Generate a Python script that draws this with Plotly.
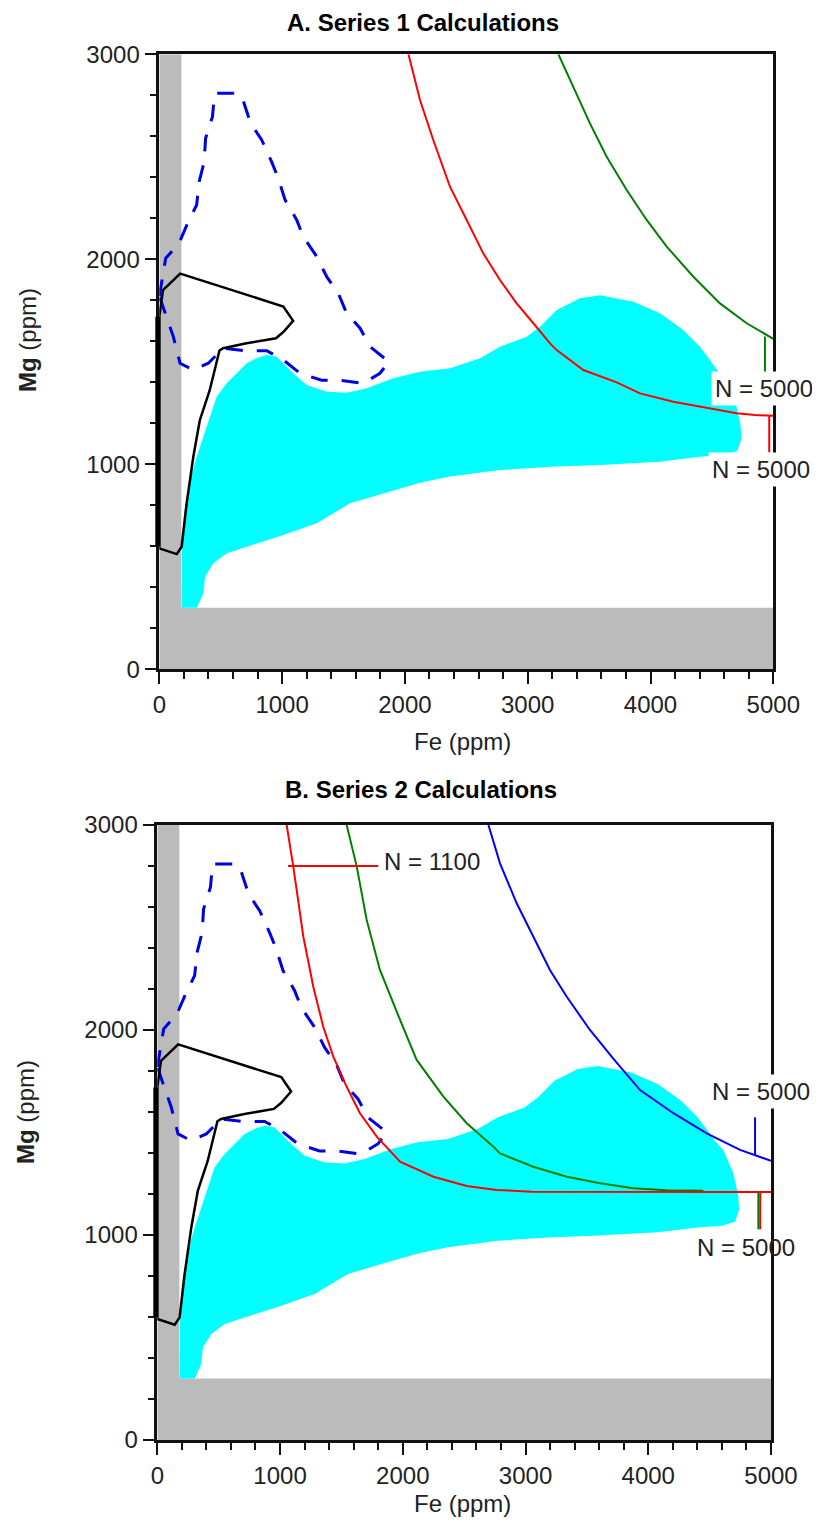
import plotly.graph_objects as go

# ---------------- data (Fe ppm on x, Mg ppm on y) ----------------
gray_x = [0, 5000, 5000, 180, 180, 0, 0]
gray_y = [0, 0, 300, 300, 3000, 3000, 0]

cyan_x = [182, 185, 200, 250, 305, 358, 413, 467, 549, 640, 712, 800, 875, 956, 1030, 1091,
          1200, 1363, 1526, 1689, 1906, 2123, 2367, 2612, 2774, 2992, 3100, 3236, 3426, 3589,
          3860, 4077, 4267, 4402, 4484, 4541, 4611, 4660, 4693, 4734, 4740, 4707, 4600, 4402,
          4077, 3589, 3182, 2774, 2367, 2123, 1960, 1825, 1553, 1282, 1010, 765, 549, 440,
          372, 358, 305, 305, 182]
cyan_y = [300, 600, 760, 923, 1037, 1135, 1232, 1330, 1395, 1450, 1493, 1520, 1533, 1525, 1480, 1444,
          1387, 1354, 1349, 1371, 1420, 1452, 1468, 1517, 1574, 1622, 1671, 1753, 1810, 1825,
          1793, 1737, 1655, 1574, 1509, 1460, 1415, 1345, 1301, 1187, 1122, 1065, 1045, 1037,
          1013, 997, 988, 972, 940, 910, 883, 858, 810, 712, 655, 606, 566, 517,
          452, 371, 305, 300, 300]

blue_dash_x = [0, 52, 160, 236, 304, 325, 365, 377, 433, 450, 645, 685, 744, 834, 915, 969, 1024,
               1119, 1173, 1282, 1363, 1458, 1526, 1635, 1716, 1870, 1797, 1661, 1471, 1322, 1146,
               1010, 875, 698, 521, 399, 277, 169, 114, 60, 0]
blue_dash_y = [1820, 2005, 2078, 2183, 2265, 2380, 2475, 2590, 2696, 2810, 2810, 2770, 2663, 2582,
               2475, 2395, 2290, 2192, 2110, 2013, 1915, 1834, 1736, 1664, 1574, 1500, 1444, 1395,
               1410, 1410, 1444, 1509, 1554, 1554, 1566, 1493, 1460, 1493, 1623, 1720, 1820]

black_x = [0, 0, 30, 170, 1010, 1090, 1010, 950, 710, 520, 490, 410, 330, 277, 223, 182, 142, 0]
black_y = [590, 1720, 1850, 1930, 1770, 1700, 1645, 1615, 1590, 1566, 1555, 1360, 1215, 1037,
           810, 598, 562, 590]
# the heavy left edge of the black outline (Fe = 0, Mg from-to)
black_edge_x = [0, 0]
black_edge_y = [590, 1720]

# Series 1 curves
s1_red_x = [2029, 2123, 2231, 2367, 2503, 2638, 2774, 2910, 3046, 3182, 3236, 3345, 3453, 3725,
            3915, 4186, 4539, 4702, 4851, 5000]
s1_red_y = [3000, 2777, 2582, 2354, 2192, 2029, 1899, 1785, 1688, 1590, 1557, 1509, 1460, 1400,
            1346, 1305, 1265, 1249, 1240, 1237]
s1_green_x = [3250, 3371, 3507, 3643, 3806, 3969, 4132, 4349, 4566, 4783, 5000]
s1_green_y = [3000, 2842, 2663, 2500, 2338, 2192, 2062, 1915, 1785, 1688, 1612]
s1_red_tick_x = [4967, 4967]
s1_red_tick_y = [1240, 1057]
s1_green_tick_x = [4932, 4932]
s1_green_tick_y = [1623, 1444]

# Series 2 curves
s2_red_x = [1054, 1108, 1190, 1271, 1352, 1434, 1543, 1651, 1788, 1978, 2250, 2521, 2765, 3050, 5000]
s2_red_y = [3000, 2797, 2455, 2211, 2016, 1870, 1723, 1594, 1480, 1358, 1284, 1239, 1220, 1211, 1210]
s2_green_x = [1543, 1625, 1706, 1814, 1978, 2113, 2331, 2521, 2738, 2792, 3063, 3336, 3607, 3878,
              4150, 4448]
s2_green_y = [3000, 2797, 2537, 2293, 2049, 1854, 1675, 1545, 1431, 1398, 1333, 1284, 1252, 1228,
              1218, 1216]
s2_blue_x = [2698, 2792, 2928, 3063, 3199, 3336, 3525, 3715, 3933, 4205, 4476, 4748, 4870, 5000]
s2_blue_y = [3000, 2813, 2618, 2455, 2293, 2162, 2000, 1860, 1707, 1594, 1496, 1415, 1390, 1362]
s2_red_n1100_x = [1065, 1800]
s2_red_n1100_y = [2800, 2800]
s2_green_tick_x = [4897, 4897]
s2_green_tick_y = [1210, 1028]
s2_red_tick_x = [4912, 4912]
s2_red_tick_y = [1210, 1028]
s2_blue_tick_x = [4870, 4870]
s2_blue_tick_y = [1574, 1390]

x_ticks = [0, 1000, 2000, 3000, 4000, 5000]
y_ticks = [0, 1000, 2000, 3000]
titles = ["<b>A. Series 1 Calculations</b>", "<b>B. Series 2 Calculations</b>"]
x_title = "Fe (ppm)"
y_title = "<b>Mg</b> (ppm)"

# ---------------- figure ----------------
OFF = 8                      # default page margin of the html body
W, H = 820 - OFF, 1533 - OFF
FONT = "Liberation Sans, Arial, sans-serif"
fig = go.Figure()


def add(x, y, ax, **kw):
    xa, ya = ("x", "y") if ax == 1 else ("x2", "y2")
    fig.add_trace(go.Scatter(x=x, y=y, xaxis=xa, yaxis=ya, showlegend=False,
                             hoverinfo="skip", **kw))


for ax in (1, 2):
    add(gray_x, gray_y, ax, mode="lines", fill="toself", fillcolor="#BBBBBB",
        line=dict(width=0, color="#BBBBBB"))
    add(cyan_x, cyan_y, ax, mode="lines", fill="toself", fillcolor="#00FFFF",
        line=dict(width=0, color="#00FFFF"))
    add(blue_dash_x, blue_dash_y, ax, mode="lines",
        line=dict(color="#0000E6", width=3, dash="17px,14px"))
    add(black_x, black_y, ax, mode="lines", line=dict(color="black", width=2.5))

# series 1
add(s1_red_x, s1_red_y, 1, mode="lines", line=dict(color="#FF0000", width=2))
add(s1_green_x, s1_green_y, 1, mode="lines", line=dict(color="#008000", width=2))
add(s1_red_tick_x, s1_red_tick_y, 1, mode="lines", line=dict(color="#FF0000", width=2))
add(s1_green_tick_x, s1_green_tick_y, 1, mode="lines", line=dict(color="#008000", width=2))

# series 2
add(s2_green_x, s2_green_y, 2, mode="lines", line=dict(color="#008000", width=2))
add(s2_red_x, s2_red_y, 2, mode="lines", line=dict(color="#FF0000", width=2))
add(s2_blue_x, s2_blue_y, 2, mode="lines", line=dict(color="#0000FF", width=2))
add(s2_red_n1100_x, s2_red_n1100_y, 2, mode="lines", line=dict(color="#FF0000", width=2))
add(s2_green_tick_x, s2_green_tick_y, 2, mode="lines", line=dict(color="#008000", width=2))
add(s2_red_tick_x, s2_red_tick_y, 2, mode="lines", line=dict(color="#FF0000", width=2))
add(s2_blue_tick_x, s2_blue_tick_y, 2, mode="lines", line=dict(color="#0000FF", width=2))

# pixel geometry (window pixels) of the two plot areas
top = dict(x0=159.3, x1=773.3, y0=54.3, y1=669.3)
bot = dict(x0=157.3, x1=771.0, y0=825.0, y1=1440.0)


def px(x):
    return (x - OFF) / W


def py(y):
    return 1 - (y - OFF) / H


def xdom(p):
    return [px(p["x0"]), px(p["x1"])]


def ydom(p):
    return [py(p["y1"]), py(p["y0"])]


tickfont = dict(family=FONT, size=24, color="#222222")
common_x = dict(range=[0, 5000], tickvals=x_ticks, ticks="outside", ticklen=12, tickwidth=2,
                tickcolor="#111111", showline=True, linewidth=2.5, linecolor="#111111",
                mirror=True, showgrid=False, zeroline=False, tickfont=tickfont, automargin=False,
                minor=dict(dtick=200, tick0=0, ticks="outside", ticklen=7, tickwidth=2,
                           tickcolor="#111111", showgrid=False))
common_y = dict(range=[0, 3000], tickvals=y_ticks, ticks="outside", ticklen=12, tickwidth=2,
                tickcolor="#111111", showline=True, linewidth=2.5, linecolor="#111111",
                mirror=True, showgrid=False, zeroline=False, tickfont=tickfont, automargin=False,
                minor=dict(dtick=200, tick0=0, ticks="outside", ticklen=7, tickwidth=2,
                           tickcolor="#111111", showgrid=False))

fig.update_layout(
    width=W, height=H, margin=dict(l=0, r=0, t=0, b=0, autoexpand=False),
    paper_bgcolor="white", plot_bgcolor="white", showlegend=False,
    xaxis=dict(domain=xdom(top), anchor="y", **common_x),
    yaxis=dict(domain=ydom(top), anchor="x", **common_y),
    xaxis2=dict(domain=xdom(bot), anchor="y2", **common_x),
    yaxis2=dict(domain=ydom(bot), anchor="x2", **common_y),
)

ann = []
lab_font = dict(family=FONT, size=24, color="#222222")
cm = dict(xanchor="center", yanchor="middle", showarrow=False)
# titles
ann.append(dict(text=titles[0], xref="paper", yref="paper", x=px(423), y=py(23),
                font=dict(family=FONT, size=24, color="black"), **cm))
ann.append(dict(text=titles[1], xref="paper", yref="paper", x=px(421), y=py(789),
                font=dict(family=FONT, size=24, color="black"), **cm))
# axis titles
ann.append(dict(text=x_title, xref="paper", yref="paper", x=px(463), y=py(741),
                font=lab_font, **cm))
ann.append(dict(text=x_title, xref="paper", yref="paper", x=px(462), y=py(1503),
                font=lab_font, **cm))
ann.append(dict(text=y_title, xref="paper", yref="paper", x=px(27), y=py(340),
                textangle=-90, font=lab_font, **cm))
ann.append(dict(text=y_title, xref="paper", yref="paper", x=px(25), y=py(1112),
                textangle=-90, font=lab_font, **cm))
# N labels
ann.append(dict(text="N = 5000", xref="x", yref="y", x=4924, y=1372,
                font=lab_font, bgcolor="white", borderpad=3, **cm))
ann.append(dict(text="N = 5000", xref="x", yref="y", x=4899, y=973,
                font=lab_font, bgcolor="white", borderpad=3, **cm))
ann.append(dict(text="N = 5000", xref="x2", yref="y2", x=4918, y=1698,
                font=lab_font, bgcolor="white", borderpad=3, **cm))
ann.append(dict(text="N = 5000", xref="x2", yref="y2", x=4796, y=941,
                font=lab_font, **cm))
ann.append(dict(text="N = 1100", xref="x2", yref="y2", x=1831, y=2820, xanchor="left",
                yanchor="middle", showarrow=False, font=lab_font))
# heavy left edge of the black outline (drawn as an arrowless segment so it is not clipped)
for xr, yr in (("x", "y"), ("x2", "y2")):
    ann.append(dict(text=" ", xref=xr, yref=yr, axref=xr, ayref=yr,
                    x=black_edge_x[1], y=black_edge_y[1], ax=black_edge_x[0], ay=black_edge_y[0],
                    showarrow=True, arrowhead=0, arrowwidth=5, arrowcolor="black",
                    xshift=-1.5, standoff=0, startstandoff=0, font=dict(size=1)))
fig.update_layout(annotations=ann)

fig.write_html("out.html")
